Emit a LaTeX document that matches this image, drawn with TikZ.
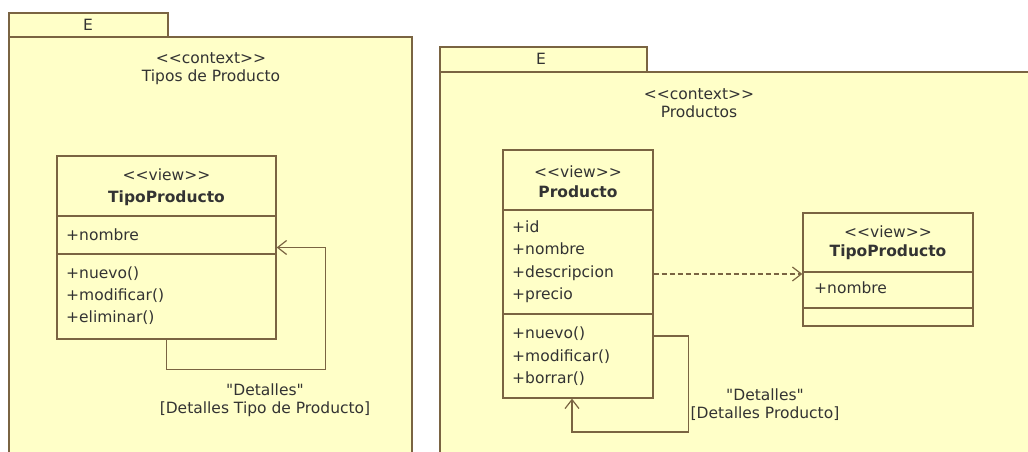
\documentclass[tikz,border=0pt]{standalone}
\usepackage{fontspec}
\usetikzlibrary{arrows.meta,positioning,calc}
\newfontfamily\umlfont{DejaVu Sans}
\newcommand\umlsize{\umlfont\fontsize{15.5bp}{18bp}\selectfont}
\definecolor{PkgYellow}{HTML}{FFFFC8}
\definecolor{LineBrown}{HTML}{7A6442}
\definecolor{TextGray}{HTML}{333333}

\begin{document}
\begin{tikzpicture}[x=1bp, y=-1bp,
  pkg/.style={draw=LineBrown, fill=PkgYellow, line width=1.5bp},
  cls/.style={draw=LineBrown, fill=PkgYellow, line width=1.3bp, inner sep=0pt},
  sep/.style={draw=LineBrown, line width=1.3bp},
  lbl/.style={inner sep=0pt, font=\umlsize, text=TextGray},
  title/.style={lbl, font=\umlsize\bfseries},
  mem/.style={lbl, anchor=west, text height=11bp, text depth=3bp},
  arr/.style={-{Straight Barb[length=9bp,width=14bp]}, draw=LineBrown, line width=1.2bp},
  dep/.style={arr, dash pattern=on 5bp off 3bp}
]
\useasboundingbox (0,0) rectangle (1028,452);
\clip (0,0) rectangle (1028,452);
\fill[white] (0,0) rectangle (1028,452);

% package: Tipos de Producto
\draw[pkg] (9,13) rectangle (168,37);
\draw[pkg] (9,37) rectangle (412,470);
\node[lbl] (tabL) at (88,25) {E};
\node[lbl, align=center] (ctxL) at (211,69) {<{}<context>{}>\\Tipos de Producto};

\node[cls, minimum width=219bp, minimum height=183bp] (tpL) at (166.5,247.5) {};
\draw[sep] (tpL.west |- 0,216) -- (tpL.east |- 0,216);
\draw[sep] (tpL.west |- 0,254) -- (tpL.east |- 0,254);
\node[lbl] (tpLst) at (166.5,175) {<{}<view>{}>};
\node[title] (tpLnm) at (166.5,198) {TipoProducto};
\node[mem] (tpLa) at (66,237) {+nombre};
\foreach \m [count=\i] in {nuevo(),modificar(),eliminar()}
  \node[mem] (tpLm\i) at (66,{252.5+\i*22}) {+\m};

\draw[arr] (tpL.south) -- ++(0,30) -| ($(tpL.east)+(49,0)$) -- (tpL.east);
\node[lbl, align=center] (detL) at (265,400) {"Detalles"\\{}[Detalles Tipo de Producto]};

% package: Productos
\draw[pkg] (440,47) rectangle (647,72);
\draw[pkg] (440,72) rectangle (1040,470);
\node[lbl] (tabR) at (541,59) {E};
\node[lbl, align=center] (ctxR) at (699,103) {<{}<context>{}>\\Productos};

\node[cls, minimum width=150bp, minimum height=248bp] (pr) at (578,274) {};
\draw[sep] (pr.west |- 0,210) -- (pr.east |- 0,210);
\draw[sep] (pr.west |- 0,314) -- (pr.east |- 0,314);
\node[lbl] (prst) at (578,172) {<{}<view>{}>};
\node[title] (prnm) at (578,192) {Producto};
\foreach \a [count=\i] in {id,nombre,descripcion,precio}
  \node[mem] (pra\i) at (512,{205.5+\i*22.6}) {+\a};
\foreach \m [count=\i] in {nuevo(),modificar(),borrar()}
  \node[mem] (prm\i) at (512,{312.5+\i*22.5}) {+\m};

\node[cls, minimum width=170bp, minimum height=113bp] (tpR) at (888,269.5) {};
\draw[sep] (tpR.west |- 0,272) -- (tpR.east |- 0,272);
\draw[sep] (tpR.west |- 0,308) -- (tpR.east |- 0,308);
\node[lbl] (tpRst) at (888,232) {<{}<view>{}>};
\node[title] (tpRnm) at (888,252) {TipoProducto};
\node[mem] (tpRa) at (814,290) {+nombre};

\draw[dep] (pr.east) -- (pr.east -| tpR.west);
\draw[arr] ($(pr.east)+(0,62)$) -| ++(35,96) -| ($(pr.south)+(-6,0)$);
\node[lbl, align=center] (detR) at (765,405) {"Detalles"\\{}[Detalles Producto]};
\end{tikzpicture}
\end{document}
